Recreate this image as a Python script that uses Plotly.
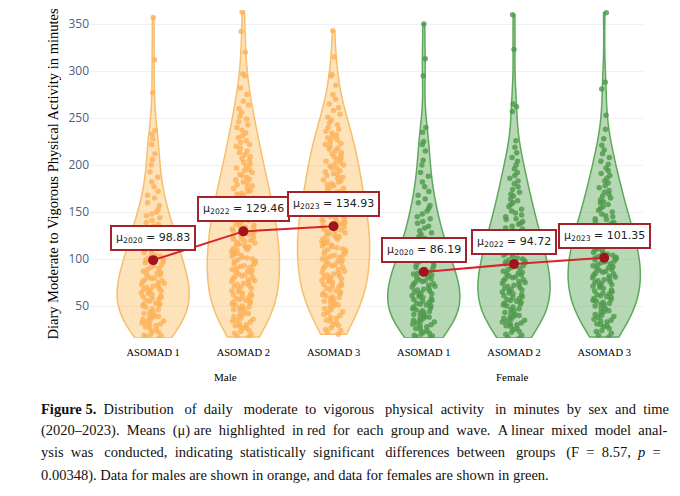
import plotly.graph_objects as go

# daily MVPA minutes per participant (approximate)
male_2020 = [16, 17, 18, 19, 20, 22, 23, 25, 26, 28, 29,
             30, 31, 32, 33, 34, 35, 36, 37, 38, 39, 40, 41, 42, 43, 44, 46, 47, 49,
             50, 51, 52, 52, 53, 55, 56, 57, 58, 59, 60, 61, 62, 63, 64, 65, 66, 67, 68, 69,
             70, 71, 72, 73, 74, 75, 76, 77, 78, 79, 80, 81, 83, 84, 85, 86, 87, 89,
             90, 91, 93, 94, 96, 97, 99, 100, 101, 103, 104, 106, 107, 109,
             110, 112, 113, 115, 117, 118, 120, 122, 123, 125, 127, 128,
             130, 132, 135, 137, 139, 141, 144, 146, 148,
             150, 153, 157, 160, 165, 168,
             172, 177, 182, 187, 193, 200, 206,
             212, 222, 228, 233, 237, 277, 312, 357]
male_2022 = [17, 18, 20, 21, 23, 24, 26, 27, 28, 29,
             30, 31, 33, 34, 35, 36, 37, 39, 40, 41, 42, 44, 45, 46, 47, 48, 49,
             50, 51, 52, 53, 54, 55, 56, 57, 58, 59, 60, 61, 62, 63, 64, 65, 66, 67, 69,
             70, 71, 72, 73, 74, 75, 76, 77, 78, 79, 80, 81, 82, 83, 84, 85, 86, 87, 88, 89,
             90, 91, 92, 93, 94, 95, 96, 97, 98, 99, 100, 101, 102, 103, 104, 105, 106, 107, 108, 109,
             110, 111, 112, 113, 114, 115, 116, 117, 118, 119, 120, 121, 122, 123, 124, 125, 126, 127, 129,
             130, 131, 132, 133, 134, 135, 136, 137, 139, 140, 141, 142, 143, 144, 145, 146, 148, 149,
             150, 151, 153, 154, 155, 157, 158, 159, 160, 161, 163, 164, 165, 167, 168, 169,
             170, 172, 173, 175, 176, 178, 179, 181, 182, 184, 185, 187, 189,
             190, 192, 194, 195, 197, 199, 201, 203, 205, 207, 209,
             211, 213, 215, 218, 220, 222, 224, 226, 229,
             231, 234, 237, 240, 243, 246, 249, 252, 256, 260, 264, 268,
             275, 282, 295, 297, 320, 342, 363]
male_2023 = [20, 22, 24, 25, 27, 29, 30, 32, 34,
             35, 37, 38, 40, 41, 43, 44, 46, 47, 49,
             50, 51, 53, 54, 55, 57, 58, 59, 60, 61, 62, 63, 64, 65, 66, 67, 69,
             70, 71, 72, 73, 74, 75, 76, 77, 78, 79, 80, 81, 82, 83, 84, 85, 86, 87, 89,
             90, 91, 92, 93, 94, 95, 96, 97, 98, 99, 100, 101, 102, 103, 104, 105, 106, 107, 108, 109,
             110, 111, 112, 113, 114, 115, 116, 117, 118, 119, 120, 121, 122, 123, 124, 125, 126, 127, 128, 129,
             130, 131, 132, 133, 134, 135, 136, 137, 138, 139, 140, 141, 142, 143, 144, 145, 146, 147, 149,
             150, 151, 152, 153, 155, 156, 157, 158, 159, 160, 161, 162, 164, 165, 166, 167, 169,
             170, 171, 172, 174, 175, 176, 178, 179, 180, 182, 183, 184, 186, 187, 189,
             190, 191, 193, 194, 196, 197, 199, 200, 201, 203, 204, 206, 207, 209,
             210, 212, 213, 215, 217, 218, 220, 222, 223, 225, 227, 229,
             230, 232, 234, 236, 238, 240, 243, 245, 248,
             251, 254, 258, 261, 265, 270, 275, 285, 295, 296, 315, 343]
female_2020 = [16, 17, 18, 19, 20, 21, 22, 24, 25, 26, 28, 29,
               30, 31, 32, 33, 34, 35, 36, 37, 38, 39, 40, 41, 42, 43, 44, 45, 46, 47, 48, 49,
               50, 51, 52, 53, 54, 55, 56, 57, 58, 59, 60, 61, 62, 63, 64, 65, 66, 67, 68, 69,
               70, 71, 72, 73, 74, 75, 76, 77, 78, 79, 80, 81, 83, 84, 85, 86, 87, 89,
               90, 91, 93, 94, 96, 97, 99, 100, 101, 103, 104, 106, 107, 109,
               110, 112, 114, 116, 118, 120, 122, 124, 126, 128,
               130, 133, 135, 138, 140, 143, 145, 148,
               151, 154, 157, 160, 164, 168,
               172, 177, 182, 188, 192, 200, 205, 215, 222, 225, 235, 240, 295, 313, 350]
female_2022 = [16, 17, 19, 20, 22, 23, 25, 26, 28, 29,
               30, 31, 32, 33, 34, 35, 36, 37, 38, 39, 40, 41, 42, 43, 45, 46, 47, 49,
               50, 51, 52, 53, 54, 55, 56, 57, 58, 59, 60, 61, 62, 63, 64, 65, 66, 67, 68, 69,
               70, 71, 72, 73, 74, 75, 76, 77, 78, 79, 80, 81, 82, 83, 84, 85, 86, 87, 89,
               90, 91, 92, 93, 95, 96, 97, 98, 99, 100, 101, 103, 104, 105, 106, 107, 109,
               110, 111, 113, 114, 116, 117, 118, 120, 121, 123, 124, 126, 127, 129,
               130, 132, 133, 135, 137, 138, 140, 142, 143, 145, 147, 149,
               151, 153, 156, 158, 160, 162, 164, 167, 169,
               171, 174, 177, 180, 183, 186, 189,
               192, 196, 200, 204, 208, 213, 219, 226, 257, 262, 265, 323, 360]
female_2023 = [17, 19, 21, 23, 24, 26, 28, 29,
               30, 31, 33, 34, 35, 36, 38, 39, 40, 41, 43, 44, 45, 47, 48,
               50, 51, 52, 53, 54, 55, 56, 57, 58, 59, 60, 61, 62, 63, 64, 65, 66, 67, 69,
               70, 71, 72, 73, 74, 75, 76, 77, 78, 79, 80, 81, 82, 83, 84, 85, 86, 87, 88, 89,
               90, 91, 92, 93, 94, 95, 96, 97, 98, 99, 100, 101, 102, 103, 104, 105, 106, 107, 109,
               110, 111, 112, 113, 115, 116, 117, 118, 120, 121, 122, 123, 125, 126, 127, 129,
               130, 131, 132, 134, 135, 136, 138, 139, 140, 142, 143, 145, 146, 148,
               150, 152, 154, 156, 158, 160, 161, 163, 165, 167, 169,
               171, 173, 176, 178, 181, 183, 186, 189,
               191, 194, 197, 201, 204, 208,
               212, 216, 221, 228, 238, 253, 281, 288, 362]

waves = ["ASOMAD 1", "ASOMAD 2", "ASOMAD 3"]
years = ["2020", "2022", "2023"]
male_means = [98.83, 129.46, 134.93]
female_means = [86.19, 94.72, 101.35]

ORANGE_LINE = "#f7bf6c"
ORANGE_FILL = "rgba(252,185,90,0.42)"
ORANGE_PT = "#fcb257"
GREEN_LINE = "#5da95a"
GREEN_FILL = "rgba(95,169,92,0.45)"
GREEN_PT = "#4c984a"
SERIF = "Liberation Serif"

fig = go.Figure()

groups = [
    (male_2020, ORANGE_LINE, ORANGE_FILL, ORANGE_PT),
    (male_2022, ORANGE_LINE, ORANGE_FILL, ORANGE_PT),
    (male_2023, ORANGE_LINE, ORANGE_FILL, ORANGE_PT),
    (female_2020, GREEN_LINE, GREEN_FILL, GREEN_PT),
    (female_2022, GREEN_LINE, GREEN_FILL, GREEN_PT),
    (female_2023, GREEN_LINE, GREEN_FILL, GREEN_PT),
]
for i, (vals, lc, fc, pc) in enumerate(groups):
    fig.add_trace(go.Violin(
        x=[i] * len(vals), y=vals, width=0.8, spanmode="hard",
        line=dict(color=lc, width=1.5), fillcolor=fc,
        points="all", jitter=0.33, pointpos=0,
        marker=dict(color=pc, size=5.5, opacity=0.8),
        showlegend=False, hoverinfo="skip"))

# means, one line per sex
for xs, means in [([0, 1, 2], male_means), ([3, 4, 5], female_means)]:
    fig.add_trace(go.Scatter(
        x=xs, y=means, mode="lines+markers",
        line=dict(color="#d8232a", width=2),
        marker=dict(color="#a3131b", size=10),
        showlegend=False, hoverinfo="skip"))
    for x, yr, m in zip(xs, years, means):
        fig.add_annotation(
            x=x, y=m, text=f"μ<sub>{yr}</sub> = {m:.2f}", showarrow=False,
            yanchor="bottom", yshift=9,
            font=dict(family="DejaVu Sans", size=11, color="#222"),
            bgcolor="white", bordercolor="#a3222c", borderwidth=2, borderpad=4)

# group labels
fig.add_annotation(x=0.8, y=-0.119, xref="x", yref="paper", text="Male", showarrow=False,
                   yanchor="middle", font=dict(family=SERIF, size=11, color="black"))
fig.add_annotation(x=3.98, y=-0.119, xref="x", yref="paper", text="Female", showarrow=False,
                   yanchor="middle", font=dict(family=SERIF, size=11, color="black"))

# caption, word gaps widened by hand to imitate the justified block
S = " &nbsp;"
D = " &nbsp;&nbsp;"
caption = [
    "<b>Figure 5.</b>" + S + "Distribution" + D + "of" + S + "daily" + D + "moderate" + S + "to" + S
    + "vigorous" + D + "physical" + S + "activity" + D + "in" + S + "minutes" + S + "by" + S
    + "sex" + S + "and" + S + "time",
    "(2020–2023)." + S + "Means" + S + "(μ) are" + S + "highlighted" + S + "in red" + S + "for" + S
    + "each" + S + "group and" + S + "wave." + S + "A linear" + S + "mixed" + S + "model" + S + "anal-",
    "ysis" + S + "was" + D + "conducted," + S + "indicating" + S + "statistically" + S + "significant" + D
    + "differences" + S + "between" + D + "groups" + D + "(F" + S + "=" + S + "8.57," + S + "<i>p</i>"
    + S + "=",
    "0.00348). Data for males are shown in orange, and data for females are shown in green.",
]
cap_y = [-0.2165, -0.2835, -0.3506, -0.4207]
for line, cy in zip(caption, cap_y):
    fig.add_annotation(x=-0.092, y=cy, xref="paper", yref="paper",
                       text=line, showarrow=False, xanchor="left", yanchor="middle",
                       font=dict(family=SERIF, size=14.5, color="#111"))

fig.update_layout(
    width=680, height=496, template="plotly_white",
    margin=dict(l=82, r=45, t=2, b=166),
    paper_bgcolor="white", plot_bgcolor="white",
    violingap=0, violinmode="overlay",
    xaxis=dict(tickmode="array", tickvals=[0, 1, 2, 3, 4, 5], ticktext=waves * 2,
               range=[-0.70, 5.43], showgrid=False, zeroline=False, automargin=False,
               ticklabelstandoff=6,
               tickfont=dict(family=SERIF, size=10.5, color="black")),
    yaxis=dict(range=[16, 365], tickvals=[50, 100, 150, 200, 250, 300, 350],
               gridcolor="#eef0f6", zeroline=False, automargin=False,
               tickfont=dict(family="Open Sans", size=12, color="#4f5d7e"),
               title=dict(text="Diary Moderate to Vigorous Physical Activity in minutes",
                          font=dict(family=SERIF, size=14.5, color="black"), standoff=6)),
)

fig.write_html("out.html")
